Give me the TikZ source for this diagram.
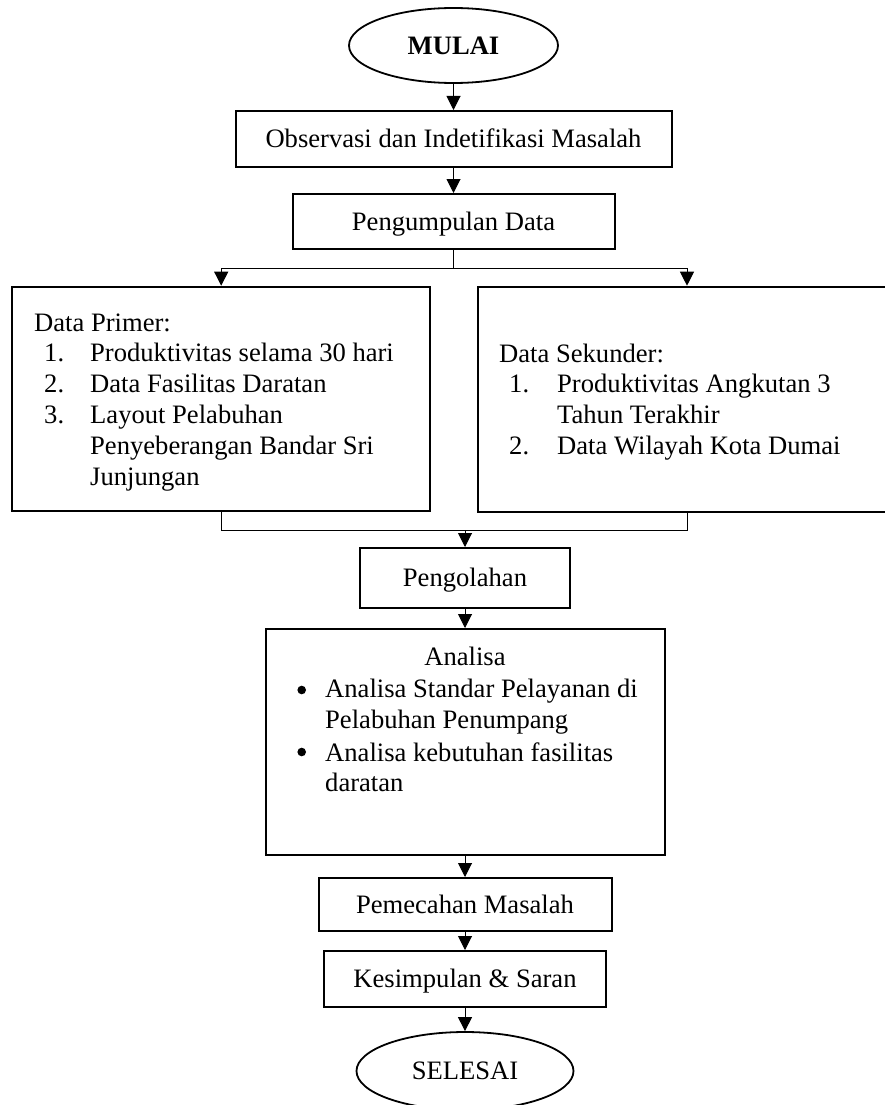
\documentclass[tikz,border=0pt]{standalone}
\usepackage{fontspec}
\setmainfont{Liberation Serif}
\usetikzlibrary{shapes.geometric,arrows.meta}
\begin{document}
\begin{tikzpicture}[x=1pt,y=-1pt,
  every node/.style={font=\fontsize{26.6}{31}\selectfont},
  box/.style={draw, line width=2pt, inner sep=0pt, text height=24.25pt, text depth=6.65pt},
  oval/.style={draw, ellipse, line width=1.8pt, inner sep=0pt, text height=24.25pt, text depth=6.65pt},
  conn/.style={line width=1pt},
  arr/.style={conn, -{Triangle[length=14pt,width=14pt]}},
  txt/.style={anchor=base west, inner sep=0pt},
  ctr/.style={anchor=base, inner sep=0pt},
  bul/.style={circle, fill, inner sep=0pt, minimum size=8.6pt}
]
\useasboundingbox (0,0) rectangle (884,1105);

% main flow
\node[oval, minimum width=209, minimum height=75] (mulai) at (453.5,45.5) {\textbf{MULAI}};
\node[box, minimum width=436, minimum height=56] (obs) at (453.5,139) {Observasi dan Indetifikasi Masalah};
\node[box, minimum width=322, minimum height=55] (peng) at (453.5,221.5) {Pengumpulan Data};
\coordinate (br) at (453.5,268);
\node[box, minimum width=417.6, minimum height=224] (prim) at (221.2,398.7) {};
\node[box, minimum width=418, minimum height=225] (sek) at (687,399.2) {};
\coordinate (mg) at (465,530);
\node[box, minimum width=210, minimum height=60] (olah) at (465,578) {Pengolahan};
\node[box, minimum width=399, minimum height=226] (anl) at (465,742) {};
\node[box, minimum width=293, minimum height=53] (pmc) at (465,904.5) {Pemecahan Masalah};
\node[box, minimum width=282, minimum height=56] (kes) at (465,979) {Kesimpulan \& Saran};
\node[oval, minimum width=217, minimum height=78] (sel) at (465,1071) {SELESAI};

% Data Primer text
\node[txt] (p0) at (34,331.7) {Data Primer:};
\node[txt] (p1n) at (44,361.7) {1.};
\node[txt] (p1) at (90,361.7) {Produktivitas selama 30 hari};
\node[txt] (p2n) at (44,392.3) {2.};
\node[txt] (p2) at (90,392.3) {Data Fasilitas Daratan};
\node[txt] (p3n) at (44,423.3) {3.};
\node[txt] (p3) at (90,423.3) {Layout Pelabuhan};
\node[txt] (p3b) at (90,454.3) {Penyeberangan Bandar Sri};
\node[txt] (p3c) at (90,485) {Junjungan};

% Data Sekunder text
\node[txt] (s0) at (499,362) {Data Sekunder:};
\node[txt] (s1n) at (509,392.3) {1.};
\node[txt] (s1) at (557,392.3) {Produktivitas Angkutan 3};
\node[txt] (s1b) at (557,423.3) {Tahun Terakhir};
\node[txt] (s2n) at (509,454.3) {2.};
\node[txt] (s2) at (557,454.3) {Data Wilayah Kota Dumai};

% Analisa text
\node[ctr] (a0) at (465,665) {Analisa};
\node[bul] (a1b) at (301.7,690) {};
\node[txt] (a1) at (325,697.7) {Analisa Standar Pelayanan di};
\node[txt] (a1c) at (325,728.3) {Pelabuhan Penumpang};
\node[bul] (a2b) at (301.7,752) {};
\node[txt] (a2) at (325,761) {Analisa kebutuhan fasilitas};
\node[txt] (a2c) at (325,791.7) {daratan};

% connectors
\draw[arr] (mulai) -- (obs);
\draw[arr] (obs) -- (peng);
\draw[conn] (peng) -- (br);
\draw[arr] (br) -| (prim.north);
\draw[arr] (br) -| (sek.north);
\draw[conn] (prim.south) |- (mg);
\draw[conn] (sek.south) |- (mg);
\draw[arr] (mg) -- (olah.north);
\draw[arr] (olah) -- (anl);
\draw[arr] (anl) -- (pmc);
\draw[arr] (pmc) -- (kes);
\draw[arr] (kes) -- (sel);
\end{tikzpicture}
\end{document}
